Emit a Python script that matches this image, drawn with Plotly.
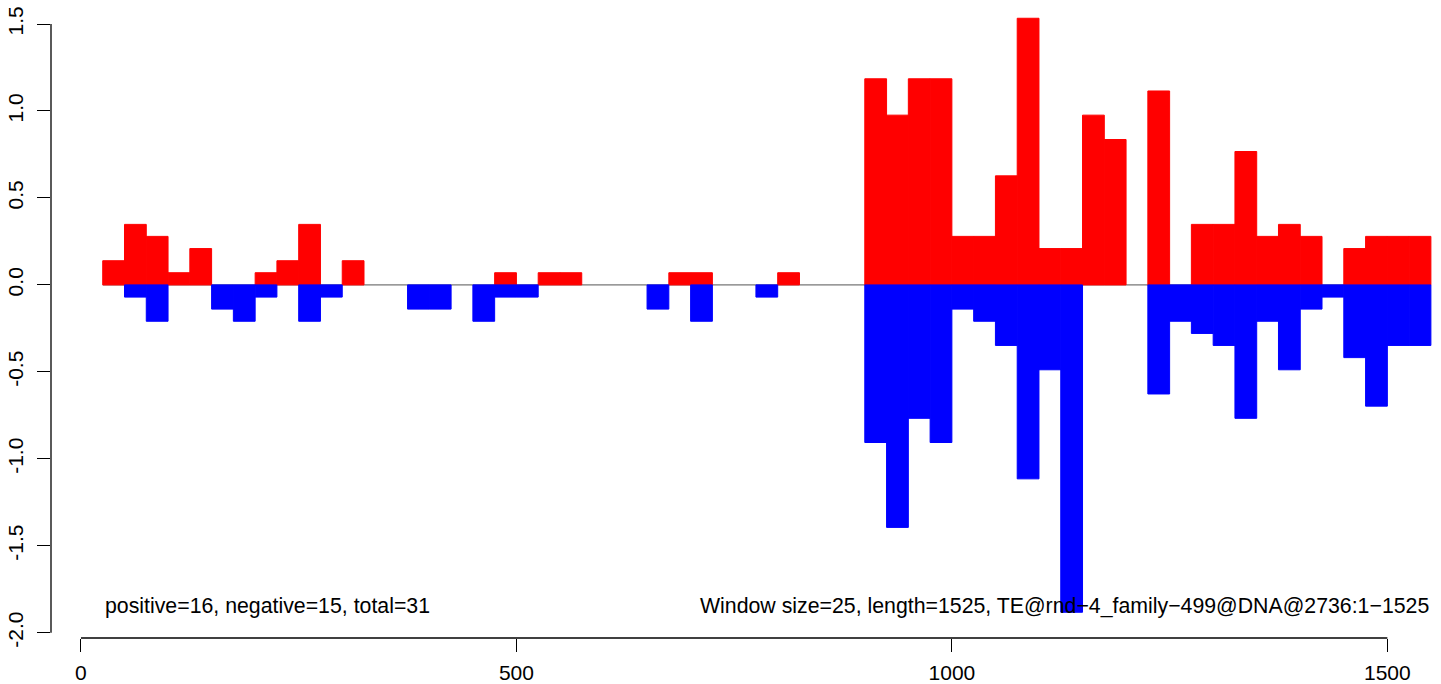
import plotly.graph_objects as go

# window start positions (window size 25)
window_start = list(range(25, 1526, 25))

# positive / negative values per window
positive = [0.139, 0.348, 0.279, 0.070, 0.209, 0, 0, 0.070, 0.139, 0.348,
            0, 0.139, 0, 0, 0, 0, 0, 0, 0.070, 0,
            0.070, 0.070, 0, 0, 0, 0, 0.070, 0.070, 0, 0,
            0, 0.070, 0, 0, 0, 1.185, 0.976, 1.185, 1.185, 0.279,
            0.279, 0.627, 1.533, 0.209, 0.209, 0.976, 0.836, 0, 1.115, 0,
            0.348, 0.348, 0.767, 0.279, 0.348, 0.279, 0, 0.209, 0.279, 0.279,
            0.279]
negative = [0, -0.070, -0.209, 0, 0, -0.139, -0.209, -0.070, 0, -0.209,
            -0.070, 0, 0, 0, -0.139, -0.139, 0, -0.209, -0.070, -0.070,
            0, 0, 0, 0, 0, -0.139, 0, -0.209, 0, 0,
            -0.070, 0, 0, 0, 0, -0.906, -1.394, -0.767, -0.906, -0.139,
            -0.209, -0.348, -1.115, -0.488, -1.882, 0, 0, 0, -0.627, -0.209,
            -0.279, -0.348, -0.767, -0.209, -0.488, -0.139, -0.070, -0.418, -0.697, -0.348,
            -0.348]

x_ticks = [0, 500, 1000, 1500]
y_ticks = [-2.0, -1.5, -1.0, -0.5, 0.0, 0.5, 1.0, 1.5]
y_tick_labels = ["-2.0", "-1.5", "-1.0", "-0.5", "0.0", "0.5", "1.0", "1.5"]

left_note = "positive=16, negative=15, total=31"
right_note = "Window size=25, length=1525, TE@rnd\u22124_family\u2212499@DNA@2736:1\u22121525"

font = dict(family="Liberation Sans, Arial, sans-serif", size=21, color="black")
note_font = dict(family="Liberation Sans, Arial, sans-serif", size=21.3, color="black")

# empty windows are not drawn (otherwise their outline shows on the baseline)
pos_draw = [v if v else None for v in positive]
neg_draw = [v if v else None for v in negative]

fig = go.Figure()
# thin same-colour outline hides the anti-aliased seams between adjacent bars
fig.add_trace(go.Bar(x=window_start, y=pos_draw, width=25, offset=0,
                     marker=dict(color="#ff0000", line=dict(width=1, color="#ff0000"))))
fig.add_trace(go.Bar(x=window_start, y=neg_draw, width=25, offset=0,
                     marker=dict(color="#0000ff", line=dict(width=1, color="#0000ff"))))

# baseline at zero across all windows
fig.add_shape(type="line", layer="below", xref="x", yref="y",
              x0=window_start[0], x1=window_start[-1] + 25, y0=0, y1=0,
              line=dict(color="#555555", width=1))
# R-style axis lines spanning only the tick range
fig.add_shape(type="line", xref="x", yref="paper", x0=x_ticks[0], x1=x_ticks[-1],
              y0=0, y1=0, line=dict(color="black", width=1.3))
fig.add_shape(type="line", xref="paper", yref="y", x0=0, x1=0,
              y0=y_ticks[0], y1=y_ticks[-1], line=dict(color="black", width=1.3))

fig.add_annotation(x=window_start[0], y=-1.846, text=left_note, showarrow=False,
                   xanchor="left", yanchor="middle", font=note_font)
fig.add_annotation(x=window_start[-1] + 25, y=-1.846, text=right_note, showarrow=False,
                   xanchor="right", yanchor="middle", font=note_font)

fig.update_layout(
    width=1441, height=684,
    barmode="overlay",
    showlegend=False,
    hovermode=False,
    plot_bgcolor="white",
    paper_bgcolor="white",
    margin=dict(l=51, r=0, t=0, b=46),
    font=font,
    xaxis=dict(range=[-34.4, 1561.6], tickvals=x_ticks, ticks="outside", ticklen=13,
               tickwidth=1.3, tickcolor="black", showgrid=False, zeroline=False,
               showline=False, ticklabelstandoff=3, tickfont=font, automargin=False,
               ticklabeloverflow="allow"),
    yaxis=dict(range=[-2.03, 1.638], tickvals=y_ticks, ticktext=y_tick_labels,
               ticks="outside", ticklen=13, tickwidth=1.3, tickcolor="black",
               showgrid=False, zeroline=False, showline=False, tickangle=-90,
               ticklabelstandoff=6, tickfont=font, automargin=False,
               ticklabeloverflow="allow"),
)

# drop the default page margin so the figure fills the window
fig.write_html("out.html", config={"displayModeBar": False},
               post_script="document.body.style.margin='0';")
